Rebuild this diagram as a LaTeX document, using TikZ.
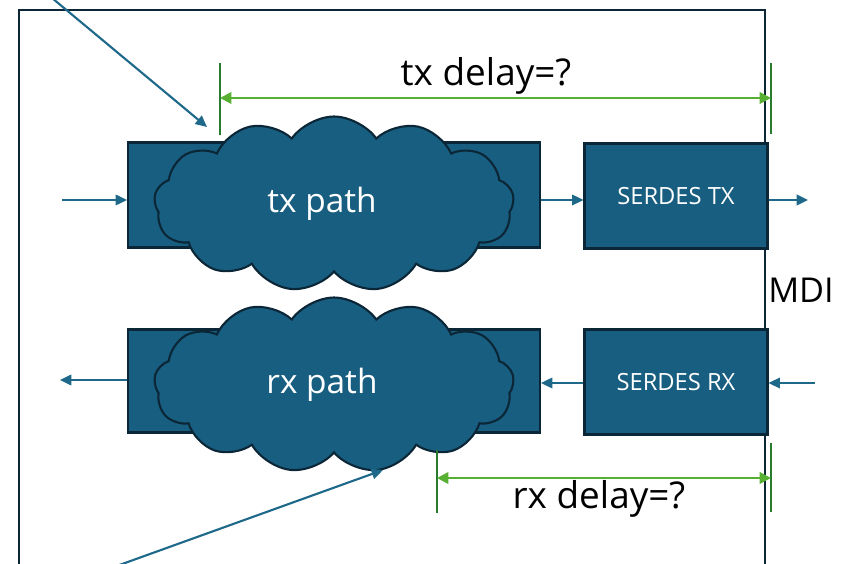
\documentclass[tikz,border=0pt]{standalone}
\usepackage{fontspec}
\setmainfont{Open Sans}
\usepackage{tikz}
\usetikzlibrary{calc,shapes,arrows.meta,positioning}
\definecolor{boxblue}{RGB}{24,94,128}
\definecolor{boxline}{RGB}{11,38,55}
\definecolor{arrblue}{RGB}{30,104,138}
\definecolor{dimgreen}{RGB}{88,176,51}
\definecolor{tickgreen}{RGB}{40,122,44}

\begin{document}
\begin{tikzpicture}[x=0.02cm,y=-0.02cm,
	block/.style={draw=boxline,fill=boxblue,line width=1.2pt,text=white,inner sep=0pt},
	puff/.style={cloud,cloud puffs=13,cloud puff arc=110,cloud ignores aspect,draw=boxline,fill=boxblue,line width=1.2pt,text=white,inner sep=0pt,minimum width=7.2cm,minimum height=3.5cm,font=\fontsize{19}{22}\selectfont},
	flow/.style={arrblue,line width=1.2pt,-{Triangle[length=6.5pt,width=6pt]}},
	dim/.style={dimgreen,line width=1.5pt,{Triangle[length=6.5pt,width=6.5pt]}-{Triangle[length=6.5pt,width=6.5pt]}},
	tick/.style={tickgreen,line width=1.6pt}]
				\clip (0,0) rectangle (846,564);
				\draw[boxline,line width=1.4pt] (19,10) rectangle (765,620);
				% tx side
				\node[block,minimum width=8.24cm,minimum height=2.1cm] (txpath) at (334,195) {};
				\node[puff] (txcloud) at (334,204) {tx path\hspace*{0.48cm}};
				\node[block,minimum width=3.66cm,minimum height=2.1cm,font=\fontsize{13.5}{15}\selectfont] (sertx) at (676,196) {SERDES TX};
				% rx side
				\node[block,minimum width=8.24cm,minimum height=2.06cm] (rxpath) at (334,381) {};
				\node[puff] (rxcloud) at (334,385) {rx path\hspace*{0.48cm}};
				\node[block,minimum width=3.66cm,minimum height=2.1cm,font=\fontsize{13.5}{15}\selectfont] (serrx) at (676,382) {SERDES RX};
				\node[font=\fontsize{19.5}{22}\selectfont] (mdi) at (801,290) {MDI};
				% data flow
				\coordinate (txin) at (62,200);
				\coordinate (txout) at (808,200);
				\coordinate (rxin) at (815,383);
				\coordinate (rxout) at (60,380);
				\draw[flow] (txin) -- (txpath.west |- txin);
				\draw[flow] (txpath.east |- txin) -- (sertx.west |- txin);
				\draw[flow] (sertx.east |- txout) -- (txout);
				\draw[flow] (rxin) -- (serrx.east |- rxin);
				\draw[flow] (serrx.west |- rxin) -- (rxpath.east |- rxin);
				\draw[flow] (rxpath.west |- rxout) -- (rxout);
				\coordinate (topfree) at (52,-2);
				\coordinate (toptip) at (207,127);
				\coordinate (botfree) at (100,572);
				\coordinate (bottip) at (383,470);
				\draw[flow] (topfree) -- (toptip);
				\draw[flow] (botfree) -- (bottip);
				% delays
				\coordinate (txl) at (220,98);
				\coordinate (txr) at (771,98);
				\coordinate (rxl) at (437,478);
				\coordinate (rxr) at (771,478);
				\draw[tick] ($(txl)+(0,-35)$) -- ($(txl)+(0,37)$);
				\draw[tick] ($(txr)+(0,-35)$) -- ($(txr)+(0,36)$);
				\draw[tick] ($(rxl)+(0,-28)$) -- ($(rxl)+(0,35)$);
				\draw[tick] ($(rxr)+(0,-35)$) -- ($(rxr)+(0,34)$);
				\draw[dim] (txl) -- (txr);
				\draw[dim] (rxl) -- (rxr);
				\node[font=\fontsize{21}{24}\selectfont] (txlab) at (486,76) {tx delay=?};
				\node[font=\fontsize{21}{24}\selectfont] (rxlab) at (599,499) {rx delay=?};
			\end{tikzpicture}
\end{document}
